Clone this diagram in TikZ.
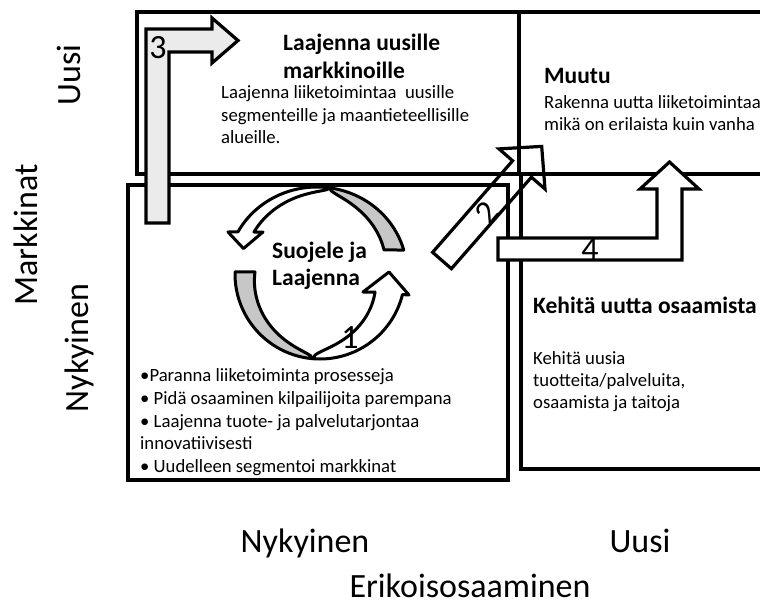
\documentclass[tikz,border=0pt]{standalone}
\usepackage{fontspec}
\setmainfont{Carlito}
\begin{document}
\begin{tikzpicture}[x=1pt,y=-1pt,
  quadrant/.style={draw=black,line width=4pt,fill=white},
  blockarrow/.style={draw=black,line width=3.2pt,line join=miter,miter limit=6},
  ribbon/.style={draw=black,line width=3pt,line join=round,fill=white},
  ribbonback/.style={draw=black,line width=3pt,line join=round,fill=black!22},
  title/.style={inner sep=0pt,anchor=base west,font=\fontsize{23.5pt}{28pt}\selectfont\bfseries},
  body/.style={inner sep=0pt,anchor=base west,font=\fontsize{18.7pt}{22.4pt}\selectfont},
  axislabel/.style={inner sep=0pt,anchor=base,font=\fontsize{34pt}{40pt}\selectfont},
  stepnum/.style={inner sep=0pt,font=\fontsize{34pt}{40pt}\selectfont}]
\useasboundingbox (0,0) rectangle (760,610);
\clip (0,0) rectangle (760,610);

% the four quadrants
\draw[quadrant] (137,12.5) rectangle (519,173.5);
\draw[quadrant] (519,12.5) rectangle (790,173.5);
\draw[quadrant] (128,185) rectangle (508,480);
\draw[quadrant] (520.5,173.5) rectangle (790,468.5);

% arrow 3: up and over to the new markets
\draw[blockarrow,fill=black!8] (146,223) -- (146,29) -- (212,29) -- (212,18)
  -- (238,40.5) -- (212,63) -- (212,52) -- (169,52) -- (169,223) -- cycle;

% arrow 2: diagonal outline only
\draw[blockarrow] (432.6,252.3) -- (512.6,160.8) -- (499,148.9) -- (541.7,146.4)
  -- (545,189) -- (531.4,177.2) -- (451.4,268.7) -- cycle;

% arrow 4: across and up
\draw[blockarrow,fill=white] (498,238) -- (657,238) -- (657,189) -- (640,189)
  -- (669.5,162) -- (699,189) -- (682,189) -- (682,260) -- (498,260) -- cycle;

% circular ribbon, upper half: back face
\draw[ribbonback] plot[domain=-15.5:-82,samples=50] ({317+90*cos(\x)},{273+86*sin(\x)})
  -- plot[domain=-82:-19.8,samples=50]
     ({317+(1-0.209*sqrt(abs((\x+82)/62.2)))*90*cos(\x)},{273+(1-0.209*sqrt(abs((\x+82)/62.2)))*86*sin(\x)})
  -- cycle;
% upper half: front face with head
\draw[ribbon] plot[domain=-82:-151.5,samples=50] ({317+90*cos(\x)},{273+86*sin(\x)})
  -- (228,232) -- (243.5,248.5) -- (263,232) -- (254,232)
  -- plot[domain=-145.7:-82,samples=50]
     ({317+(1-0.153*sqrt(abs((-82-\x)/63.7)))*90*cos(\x)},{273+(1-0.153*sqrt(abs((-82-\x)/63.7)))*86*sin(\x)})
  -- cycle;

% lower half: back face
\draw[ribbonback] plot[domain=181.5:95,samples=50] ({320+85*cos(\x)},{274+85*sin(\x)})
  -- plot[domain=95:181.8,samples=50]
     ({320+(1-0.235*sqrt(abs((\x-95)/86.8)))*85*cos(\x)},{274+(1-0.235*sqrt(abs((\x-95)/86.8)))*85*sin(\x)})
  -- cycle;
% lower half: front face with head
\draw[ribbon] plot[domain=95:14,samples=50] ({320+85*cos(\x)},{274+85*sin(\x)})
  -- (409,295) -- (389,272) -- (363,292) -- (375,292)
  -- plot[domain=18.1:95,samples=50]
     ({320+(1-0.319*sqrt(abs((95-\x)/76.9)))*85*cos(\x)},{274+(1-0.319*sqrt(abs((95-\x)/76.9)))*85*sin(\x)})
  -- cycle;

% texts: new markets
\node[title] (tlT1) at (283,51) {Laajenna uusille};
\node[title] (tlT2) at (283,78) {markkinoille};
\node[body] (tlB1) at (221,99) {Laajenna liiketoimintaa\ \ uusille};
\node[body] (tlB2) at (221,121) {segmenteille ja maantieteellisille};
\node[body] (tlB3) at (221,143) {alueille.};

% texts: change
\node[title] (trT) at (544,83) {Muutu};
\node[body] (trB1) at (544,108) {Rakenna uutta liiketoimintaa};
\node[body] (trB2) at (544,130) {mikä on erilaista kuin vanha};

% texts: protect and expand
\node[title] (blT1) at (272,258) {Suojele ja};
\node[title] (blT2) at (272,285) {Laajenna};
\node[body] (blB1) at (140,381) {•Paranna liiketoiminta prosesseja};
\node[body] (blB2) at (140,404) {• Pidä osaaminen kilpailijoita parempana};
\node[body] (blB3) at (140,427) {• Laajenna tuote- ja palvelutarjontaa};
\node[body] (blB4) at (140,449.5) {innovatiivisesti};
\node[body] (blB5) at (140,472) {• Uudelleen segmentoi markkinat};

% texts: new competence
\node[title] (brT) at (533,313) {Kehitä uutta osaamista};
\node[body] (brB1) at (533,364) {Kehitä uusia};
\node[body] (brB2) at (533,386) {tuotteita/palveluita,};
\node[body] (brB3) at (533,408) {osaamista ja taitoja};

% step numbers
\node[stepnum] (n1) at (350,338) {1};
\node[stepnum,rotate=49] (n2) at (487,213) {2};
\node[stepnum] (n3) at (158,48) {3};
\node[stepnum] (n4) at (590,250) {4};

% axis labels
\node[axislabel,rotate=90] (yNew) at (80,75) {Uusi};
\node[axislabel,rotate=90] (yAxis) at (37,235) {Markkinat};
\node[axislabel,rotate=90] (yCur) at (88,348) {Nykyinen};
\node[axislabel] (xCur) at (305,552) {Nykyinen};
\node[axislabel] (xNew) at (640,552) {Uusi};
\node[axislabel] (xAxis) at (470,597) {Erikoisosaaminen};
\end{tikzpicture}
\end{document}
